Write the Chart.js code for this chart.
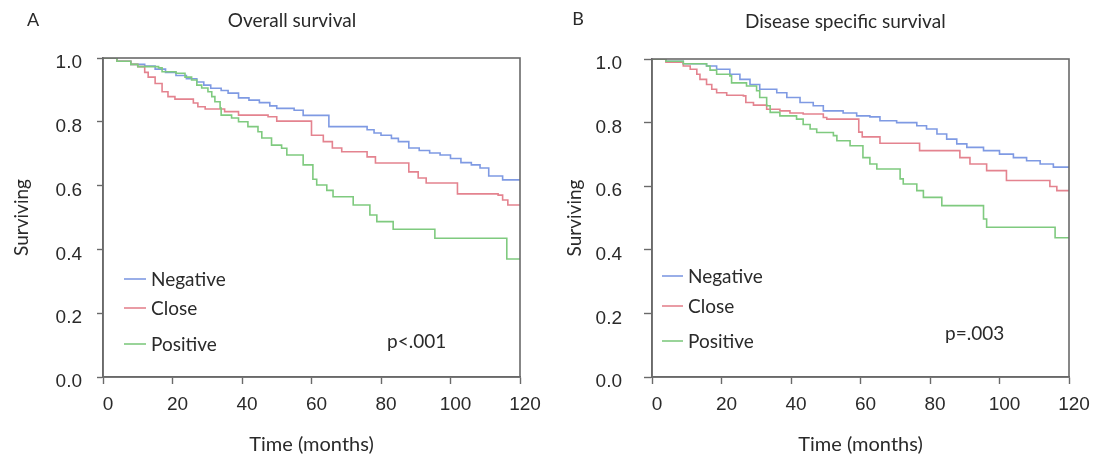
<!DOCTYPE html>
<html>
<head>
<meta charset="utf-8">
<script src="https://cdn.jsdelivr.net/npm/chart.js@4.4.1/dist/chart.umd.min.js"></script>
<style>
  html, body { margin: 0; padding: 0; background: #fff; }
  #wrap { position: relative; width: 1103px; height: 462px; overflow: hidden; }
  .c { position: absolute; top: 0; height: 462px; }
</style>
</head>
<body>
<div id="wrap">
  <div class="c" style="left:0;width:551px"><canvas id="chartA"></canvas></div>
  <div class="c" style="left:551px;width:552px"><canvas id="chartB"></canvas></div>
</div>
<script>
// ---- Data ----
const seriesNames = ["Negative", "Close", "Positive"];
const xTicks = [0, 20, 40, 60, 80, 100, 120];
const yTicks = [0.0, 0.2, 0.4, 0.6, 0.8, 1.0];

// A: Overall survival
const osNegTime = [0,4,8,12,15,18,21,24,27,29,31,34,36,39,42,45,48,50,55,57.6,65,76,78,80,83,85,88,91,94,97,100,103,106,108.5,111,115,120];
const osNegSurv = [1,0.99,0.98,0.975,0.965,0.955,0.945,0.935,0.925,0.915,0.905,0.898,0.89,0.875,0.868,0.86,0.85,0.842,0.836,0.82,0.785,0.775,0.765,0.758,0.748,0.738,0.718,0.71,0.702,0.696,0.685,0.672,0.665,0.655,0.63,0.618,0.618];
const osCloTime = [0,4,8,10,12,13,15,17,18.7,20.7,26,27.3,29.4,35,39,47.5,50,60,63.4,66,68.7,76,78.4,88,90.7,93,102,113.7,115,116.5,120];
const osCloSurv = [1,0.99,0.98,0.973,0.955,0.94,0.92,0.894,0.879,0.871,0.859,0.847,0.84,0.832,0.821,0.816,0.802,0.758,0.738,0.718,0.706,0.69,0.671,0.643,0.624,0.608,0.574,0.57,0.555,0.539,0.539];
const osPosTime = [0,4,8,10,16,17,21,23.6,25.5,27,28.4,30.2,31.3,32.2,33.7,34,37,39,41.7,44.6,45.7,48.5,51.4,52.9,57.6,60.4,61.5,64.4,66.2,72,76.8,78.8,83.5,95.5,116.2,120];
const osPosSurv = [1,0.99,0.98,0.973,0.969,0.957,0.952,0.94,0.931,0.915,0.906,0.894,0.879,0.863,0.843,0.821,0.812,0.8,0.785,0.769,0.749,0.727,0.717,0.696,0.665,0.62,0.602,0.585,0.565,0.539,0.508,0.487,0.463,0.435,0.37,0.37];

// B: Disease specific survival
const dssNegTime = [0,4,9,15.7,18.6,22.4,25.3,28.2,31,35.9,38.8,42.6,46.4,49.3,55,58.9,62.7,65.6,70.4,76.2,79,82,84.8,87.7,90.6,95.4,100,104,107.8,111.7,115.5,120];
const dssNegSurv = [1,0.993,0.985,0.978,0.968,0.952,0.936,0.92,0.905,0.894,0.879,0.863,0.853,0.837,0.83,0.821,0.818,0.806,0.8,0.79,0.78,0.764,0.748,0.733,0.722,0.712,0.701,0.69,0.68,0.67,0.66,0.66];
const dssCloTime = [0,4,9,11,12.9,13.8,15.7,17.2,18.6,21.5,26.3,27,29.2,33,36.8,39.7,43.5,49.3,50.3,59.5,60.5,65.6,77,88.6,91.5,96.3,102,114.5,116.5,120];
const dssCloSurv = [1,0.99,0.978,0.968,0.952,0.936,0.92,0.905,0.894,0.886,0.884,0.863,0.855,0.842,0.837,0.83,0.827,0.816,0.811,0.77,0.755,0.735,0.712,0.69,0.67,0.649,0.618,0.599,0.586,0.586];
const dssPosTime = [0,4,9,15.7,16.7,18.6,22.4,22.9,27.2,30.1,31,33,34,36.8,41.6,43.5,45.5,47.4,52.2,53.2,57,60.7,62.7,64.7,71.4,72.3,76.2,78.1,83.4,95.4,96.3,116,120];
const dssPosSurv = [1,0.993,0.985,0.978,0.965,0.952,0.947,0.925,0.915,0.9,0.879,0.853,0.832,0.821,0.811,0.794,0.78,0.769,0.759,0.743,0.727,0.69,0.67,0.654,0.623,0.607,0.586,0.565,0.539,0.497,0.471,0.438,0.438];

const colors = ["#7f9ae3", "#e4838f", "#7fca7f"];
const axisColor = "#6a6a6a";
const textColor = "#2a2a2a";
const textFont = "Lato, 'Open Sans', sans-serif";
const tickFont = "'Liberation Sans', Arial, sans-serif";

function pts(t, s) { return t.map((v, i) => ({ x: v, y: s[i] })); }

function makeChart(id, cfg) {
  const datasets = cfg.series.map((s, i) => ({
    label: seriesNames[i],
    data: pts(s[0], s[1]),
    borderColor: colors[i],
    backgroundColor: colors[i],
    borderWidth: 1.6,
    pointRadius: 0,
    stepped: 'before',
    fill: false,
    order: cfg.series.length - i
  }));

  const overlay = {
    id: 'overlay',
    afterDatasetsDraw(chart) {
      const ctx = chart.ctx;
      const a = chart.chartArea;
      ctx.save();
      // frame
      ctx.strokeStyle = axisColor;
      ctx.lineWidth = 1.6;
      ctx.strokeRect(a.left, a.top, a.right - a.left, a.bottom - a.top);
      // panel letter and title
      ctx.fillStyle = textColor;
      ctx.textBaseline = 'middle';
      ctx.font = "18px " + textFont;
      ctx.textAlign = 'center';
      ctx.fillText(cfg.letter, cfg.letterX, cfg.letterY);
      ctx.font = "19px " + textFont;
      ctx.textAlign = cfg.titleAlign;
      ctx.fillText(cfg.title, cfg.titleX, cfg.titleY);
      // legend
      cfg.legendY.forEach((y, i) => {
        ctx.strokeStyle = colors[i];
        ctx.lineWidth = 1.6;
        ctx.beginPath();
        ctx.moveTo(cfg.legendX0, y);
        ctx.lineTo(cfg.legendX1, y);
        ctx.stroke();
        ctx.fillStyle = textColor;
        ctx.textAlign = 'left';
        ctx.font = "19px " + textFont;
        ctx.fillText(seriesNames[i], cfg.legendTextX, y + 1);
      });
      // p value
      ctx.textAlign = 'left';
      ctx.fillText(cfg.pText, cfg.pX, cfg.pY);
      ctx.restore();
    }
  };

  return new Chart(document.getElementById(id), {
    type: 'line',
    data: { datasets },
    plugins: [overlay],
    options: {
      responsive: true,
      maintainAspectRatio: false,
      animation: false,
      events: [],
      layout: { padding: { top: cfg.top, right: cfg.right, bottom: 0, left: 0 } },
      plugins: { legend: { display: false }, tooltip: { enabled: false }, title: { display: false } },
      scales: {
        x: {
          type: 'linear',
          min: 0, max: 120,
          afterBuildTicks: s => { s.ticks = xTicks.map(v => ({ value: v })); },
          afterFit: s => { s.height = 462 - cfg.bottom; },
          grid: { drawOnChartArea: false, color: axisColor, tickLength: 7, tickWidth: 1.4 },
          border: { color: axisColor, width: 1.6 },
          ticks: { color: textColor, font: { family: tickFont, size: 19 }, padding: 9, labelOffset: 5, maxRotation: 0 },
          title: { display: true, text: 'Time (months)', color: textColor,
                   font: { family: textFont, size: 20 }, padding: { top: 0, bottom: 5 } }
        },
        y: {
          min: 0, max: 1,
          afterBuildTicks: s => { s.ticks = yTicks.map(v => ({ value: v })); },
          afterFit: s => { s.width = cfg.left; },
          grid: { drawOnChartArea: false, color: axisColor, tickLength: cfg.tickLenY, tickWidth: 1.4 },
          border: { color: axisColor, width: 1.6 },
          ticks: { color: textColor, font: { family: tickFont, size: 19 }, padding: cfg.padY, labelOffset: 5,
                   callback: v => Number(v).toFixed(1) },
          title: { display: true, text: 'Surviving', color: textColor,
                   font: { family: textFont, size: 19 }, padding: { top: cfg.yTitlePad, bottom: 0 } }
        }
      }
    }
  });
}

makeChart('chartA', {
  series: [[osNegTime, osNegSurv], [osCloTime, osCloSurv], [osPosTime, osPosSurv]],
  top: 58, right: 551 - 520, bottom: 377, left: 103,
  tickLenY: 6, padY: 15, yTitlePad: 10,
  letter: 'A', letterX: 33, letterY: 20,
  title: 'Overall survival', titleAlign: 'center', titleX: 292, titleY: 21,
  legendX0: 124, legendX1: 146, legendTextX: 151, legendY: [279, 308, 344],
  pText: 'p<.001', pX: 387, pY: 342
});

makeChart('chartB', {
  series: [[dssNegTime, dssNegSurv], [dssCloTime, dssCloSurv], [dssPosTime, dssPosSurv]],
  top: 59, right: 552 - 518, bottom: 377, left: 101,
  tickLenY: 8, padY: 22, yTitlePad: 12,
  letter: 'B', letterX: 27, letterY: 19,
  title: 'Disease specific survival', titleAlign: 'left', titleX: 194, titleY: 22,
  legendX0: 111, legendX1: 132, legendTextX: 137, legendY: [276, 306, 341],
  pText: 'p=.003', pX: 394, pY: 334
});
</script>
</body>
</html>
